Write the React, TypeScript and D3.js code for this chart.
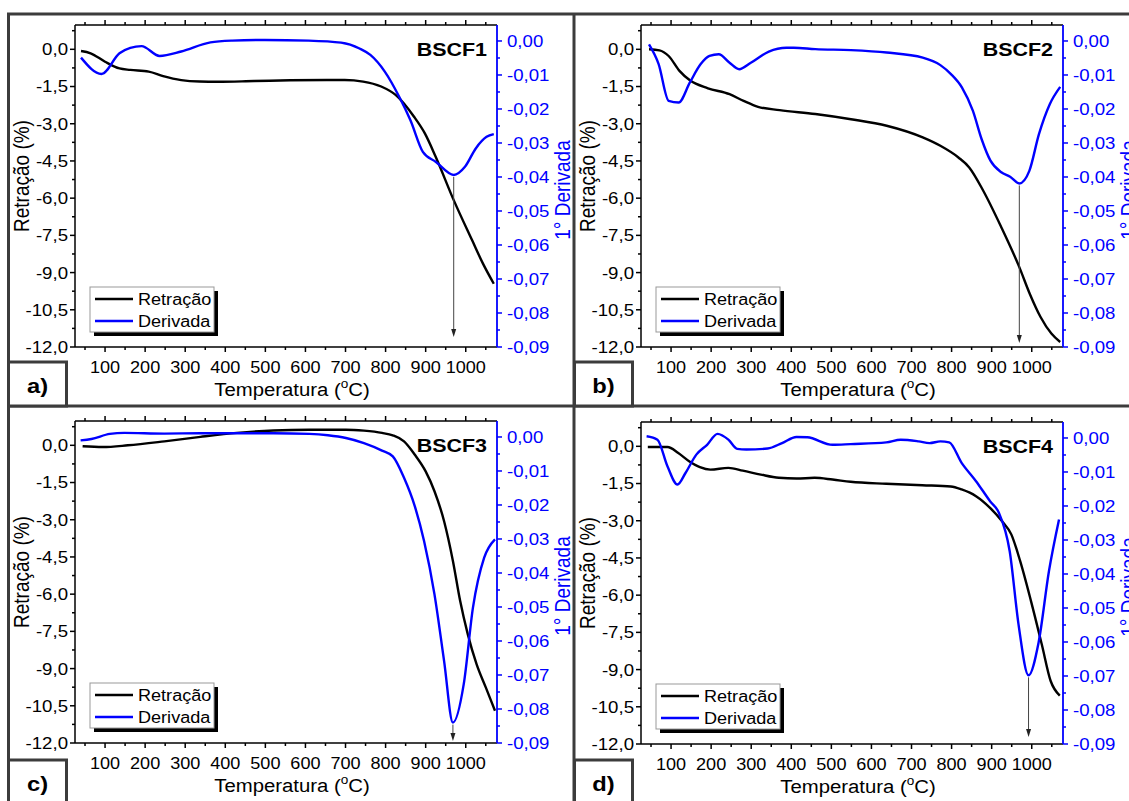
import React from "react";
import * as d3 from "d3";

// the source figure is slightly stretched sideways, so text gets a horizontal scale
const SX = 1.13;
const FONT = "Liberation Sans, Arial, sans-serif";
const BLUE = "#0000ff";
const FRAME = "#3c3c3c";

// BSCF1
const retT1 = [40, 64, 100, 136, 163, 209, 245, 290, 336, 381, 472, 562, 653, 698, 744, 789, 825, 871, 898, 925, 970, 1016, 1043, 1070];
const ret1 = [-0.07, -0.16, -0.5, -0.77, -0.83, -0.9, -1.08, -1.24, -1.3, -1.31, -1.28, -1.25, -1.24, -1.24, -1.3, -1.5, -1.84, -2.72, -3.39, -4.33, -6.08, -7.7, -8.64, -9.45];
const derT1 = [40, 91, 136, 163, 191, 236, 290, 363, 417, 499, 608, 689, 735, 762, 798, 834, 862, 893, 925, 970, 998, 1025, 1052, 1070];
const der1 = [-0.0049, -0.0097, -0.0036, -0.002, -0.0015, -0.0044, -0.0031, -0.0004, 0.0001, 0.0003, 0.0001, -0.0005, -0.0022, -0.0041, -0.009, -0.0164, -0.0233, -0.0326, -0.0355, -0.0394, -0.037, -0.0316, -0.0282, -0.0274];

// BSCF2
const retT2 = [45, 71, 94, 121, 147, 192, 246, 281, 317, 371, 460, 549, 638, 728, 772, 817, 844, 879, 924, 969, 995, 1022, 1049, 1071];
const ret2 = [0, -0.04, -0.27, -0.87, -1.25, -1.57, -1.81, -2.08, -2.32, -2.45, -2.61, -2.82, -3.08, -3.55, -3.89, -4.36, -4.76, -5.7, -7.17, -8.78, -9.85, -10.79, -11.46, -11.8];
const derT2 = [45, 69, 94, 119, 147, 174, 196, 219, 246, 270, 299, 344, 388, 406, 460, 549, 638, 728, 772, 799, 826, 853, 875, 897, 924, 946, 969, 994, 1018, 1045, 1071];
const der2 = [-0.001, -0.0068, -0.0176, -0.0181, -0.0122, -0.0068, -0.0044, -0.0039, -0.0064, -0.0083, -0.0064, -0.0031, -0.002, -0.002, -0.0024, -0.0027, -0.0034, -0.0049, -0.0071, -0.0098, -0.0137, -0.0205, -0.0289, -0.0352, -0.0386, -0.0399, -0.0419, -0.0382, -0.0274, -0.0186, -0.0135];

// BSCF3
const retT3 = [44, 94, 157, 248, 338, 429, 520, 610, 701, 746, 791, 818, 846, 873, 900, 922, 946, 968, 986, 1005, 1027, 1050, 1073];
const ret3 = [-0.04, -0.07, 0, 0.16, 0.34, 0.5, 0.6, 0.63, 0.63, 0.59, 0.5, 0.4, 0.16, -0.38, -1.05, -1.85, -3.06, -4.66, -6.27, -7.61, -8.82, -9.76, -10.7];
const derT3 = [39, 66, 112, 148, 248, 338, 429, 520, 610, 656, 701, 746, 791, 818, 846, 873, 896, 922, 946, 968, 995, 1018, 1046, 1073];
const der3 = [-0.001, -0.0006, 0.0009, 0.0012, 0.001, 0.0011, 0.0011, 0.0011, 0.0009, 0.0005, -0.0003, -0.0018, -0.004, -0.0057, -0.012, -0.0204, -0.0306, -0.0463, -0.0659, -0.084, -0.0727, -0.0502, -0.0355, -0.0301];

// BSCF4
const retT4 = [42, 91, 118, 145, 172, 198, 243, 279, 324, 369, 413, 458, 503, 548, 637, 727, 798, 825, 861, 896, 926, 949, 971, 998, 1025, 1047, 1070];
const ret4 = [-0.03, -0.03, -0.27, -0.6, -0.84, -0.94, -0.87, -0.98, -1.14, -1.27, -1.3, -1.27, -1.34, -1.43, -1.51, -1.57, -1.62, -1.74, -2.01, -2.48, -3.02, -3.55, -4.62, -6.23, -7.98, -9.45, -10.05];
const derT4 = [39, 66, 91, 116, 136, 163, 190, 216, 243, 265, 288, 341, 377, 413, 440, 503, 548, 637, 673, 718, 745, 772, 794, 825, 861, 896, 918, 945, 967, 992, 1017, 1043, 1068];
const der4 = [0.0005, -0.0005, -0.0083, -0.0137, -0.0103, -0.0049, -0.002, 0.0012, -0.0005, -0.0032, -0.0034, -0.0031, -0.0015, 0.0003, 0.0002, -0.002, -0.0018, -0.0013, -0.0005, -0.001, -0.0015, -0.001, -0.0013, -0.0073, -0.0127, -0.0186, -0.022, -0.0333, -0.0548, -0.0698, -0.0602, -0.0391, -0.024];

const names = ["BSCF1", "BSCF2", "BSCF3", "BSCF4"];
const letters = ["a)", "b)", "c)", "d)"];
const peaks = [970, 969, 968, 992];
const arrowGap = [10, 4, 2, 7];

const xTicks = d3.range(100, 1001, 100);
const xMinor = d3.range(50, 1051, 100);
const yTicks = d3.range(-12, 0.01, 1.5);
const yMinor = d3.range(-11.25, 0.8, 1.5);
const rTicks = d3.range(-0.09, 0.0001, 0.01);
const rMinor = d3.range(-0.085, 0.0, 0.01);

const fmt1 = (v: number) => d3.format(".1f")(v).replace("−", "-").replace(".", ",");
const fmt2 = (v: number) => d3.format(".2f")(Math.abs(v) < 1e-9 ? 0 : v).replace("−", "-").replace(".", ",");

const T = ({ x, y, children, anchor = "start", size = 16, weight = "normal", fill = "#000", rotate = 0, dy }: any) => (
  <text
    transform={`translate(${x},${y}) scale(${SX},1)${rotate ? ` rotate(${rotate})` : ""}`}
    textAnchor={anchor}
    fontSize={size}
    fontWeight={weight}
    fill={fill}
    fontFamily={FONT}
    dy={dy}
  >
    {children}
  </text>
);

const L = 75, R = 497, TOP = 25, B = 347;

function Panel({ i, ox, oy }: any) {
  const x = d3.scaleLinear().domain([25, 1078]).range([L, R]);
  const y = d3.scaleLinear().domain([-12, 0.98]).range([B, TOP]);
  const yr = d3.scaleLinear().domain([-0.09, 0.0047]).range([B, TOP]);
  const retT = [retT1, retT2, retT3, retT4][i];
  const ret = [ret1, ret2, ret3, ret4][i];
  const derT = [derT1, derT2, derT3, derT4][i];
  const der = [der1, der2, der3, der4][i];

  const lineL = d3.line<number>().x((_, k) => x(retT[k])).y((d) => y(d)).curve(d3.curveMonotoneX);
  const lineR = d3.line<number>().x((_, k) => x(derT[k])).y((d) => yr(d)).curve(d3.curveMonotoneX);

  const px = x(peaks[i]);
  const peakVal = der[derT.indexOf(peaks[i])];
  const y0 = yr(peakVal) + 2;
  const y1 = B - arrowGap[i];

  return (
    <g transform={`translate(${ox},${oy})`}>
      {/* bottom + top axes */}
      <line x1={L} x2={R} y1={B} y2={B} stroke="#000" strokeWidth={1.5} />
      <line x1={L} x2={R} y1={TOP} y2={TOP} stroke="#000" strokeWidth={1.5} />
      {xTicks.map((t) => (
        <g key={"x" + t}>
          <line x1={x(t)} x2={x(t)} y1={B} y2={B + 5} stroke="#000" strokeWidth={1.5} />
          <line x1={x(t)} x2={x(t)} y1={TOP} y2={TOP - 5} stroke="#000" strokeWidth={1.5} />
          <T x={x(t)} y={B + 26} anchor="middle" size={16}>{t}</T>
        </g>
      ))}
      {xMinor.map((t) => (
        <g key={"xm" + t}>
          <line x1={x(t)} x2={x(t)} y1={B} y2={B + 3} stroke="#000" strokeWidth={1.5} />
          <line x1={x(t)} x2={x(t)} y1={TOP} y2={TOP - 3} stroke="#000" strokeWidth={1.5} />
        </g>
      ))}
      {/* left axis */}
      <line x1={L} x2={L} y1={TOP} y2={B} stroke="#000" strokeWidth={1.5} />
      {yTicks.map((t) => (
        <g key={"y" + t}>
          <line x1={L - 5} x2={L} y1={y(t)} y2={y(t)} stroke="#000" strokeWidth={1.5} />
          <T x={L - 7} y={y(t)} dy="0.36em" anchor="end" size={16.5}>{fmt1(t)}</T>
        </g>
      ))}
      {yMinor.map((t) => (
        <line key={"ym" + t} x1={L - 3} x2={L} y1={y(t)} y2={y(t)} stroke="#000" strokeWidth={1.5} />
      ))}
      {/* right axis */}
      <line x1={R} x2={R} y1={TOP} y2={B} stroke={BLUE} strokeWidth={1.8} />
      {rTicks.map((t) => (
        <g key={"r" + t}>
          <line x1={R} x2={R + 5} y1={yr(t)} y2={yr(t)} stroke={BLUE} strokeWidth={1.5} />
          <T x={R + 10} y={yr(t)} dy="0.36em" size={16.5} fill={BLUE}>{fmt2(t)}</T>
        </g>
      ))}
      {rMinor.map((t) => (
        <line key={"rm" + t} x1={R} x2={R + 3} y1={yr(t)} y2={yr(t)} stroke={BLUE} strokeWidth={1.5} />
      ))}

      {/* axis titles */}
      <T x={21} y={176} anchor="middle" size={19} rotate={-90} dy="0.35em">Retração (%)</T>
      <T x={562} y={190} anchor="middle" size={19} rotate={-90} dy="0.35em" fill={BLUE}>1° Derivada</T>
      <T x={292} y={396} anchor="middle" size={18}>
        Temperatura (<tspan fontSize={12} dy={-8}>o</tspan><tspan dy={8}>C)</tspan>
      </T>

      {/* curves */}
      <path d={lineL(ret) || ""} fill="none" stroke="#000" strokeWidth={2.4} />
      <path d={lineR(der) || ""} fill="none" stroke={BLUE} strokeWidth={2.4} />

      {/* arrow at derivative minimum */}
      <line x1={px} x2={px} y1={y0} y2={y1 - 7} stroke="#444" strokeWidth={1} />
      <path d={`M${px - 2.5},${y1 - 8} L${px + 2.5},${y1 - 8} L${px},${y1} Z`} fill="#222" />

      <T x={487} y={56} anchor="end" size={19} weight="bold">{names[i]}</T>

      {/* legend */}
      <rect x={94} y={291} width={124} height={45} fill="#000" />
      <rect x={90} y={287} width={124} height={45} fill="#fff" stroke="#999" strokeWidth={1} />
      <line x1={95} x2={133} y1={299} y2={299} stroke="#000" strokeWidth={2.5} />
      <line x1={95} x2={133} y1={321} y2={321} stroke={BLUE} strokeWidth={2.5} />
      <T x={138} y={305} size={16}>Retração</T>
      <T x={138} y={327} size={16}>Derivada</T>
    </g>
  );
}

export default function App() {
  const cells = [
    { ox: 0, oy: 0 },
    { ox: 566, oy: 0 },
    { ox: 0, oy: 396 },
    { ox: 566, oy: 397 },
  ];
  const boxes = [
    { x: 8.5, y: 362 },
    { x: 574.5, y: 362 },
    { x: 8.5, y: 760 },
    { x: 574.5, y: 760 },
  ];
  return (
    <svg width={1129} height={801} style={{ position: "absolute", left: 0, top: 0, background: "#fff" }}>
      {cells.map((c, i) => (
        <Panel key={i} i={i} ox={c.ox} oy={c.oy} />
      ))}
      {/* outer frame and dividers */}
      <line x1={7} x2={1129} y1={14} y2={14} stroke={FRAME} strokeWidth={3} />
      <line x1={8.5} x2={8.5} y1={13} y2={801} stroke={FRAME} strokeWidth={3} />
      <line x1={574} x2={574} y1={13} y2={801} stroke={FRAME} strokeWidth={3} />
      <line x1={7} x2={1129} y1={406} y2={406} stroke={FRAME} strokeWidth={3} />
      {boxes.map((b, i) => (
        <g key={"b" + i}>
          <rect x={b.x} y={b.y} width={58} height={i < 2 ? 44 : 60} fill="#fff" stroke={FRAME} strokeWidth={3} />
          <T x={b.x + 29} y={b.y + 31} anchor="middle" size={21} weight="bold">{letters[i]}</T>
        </g>
      ))}
    </svg>
  );
}
